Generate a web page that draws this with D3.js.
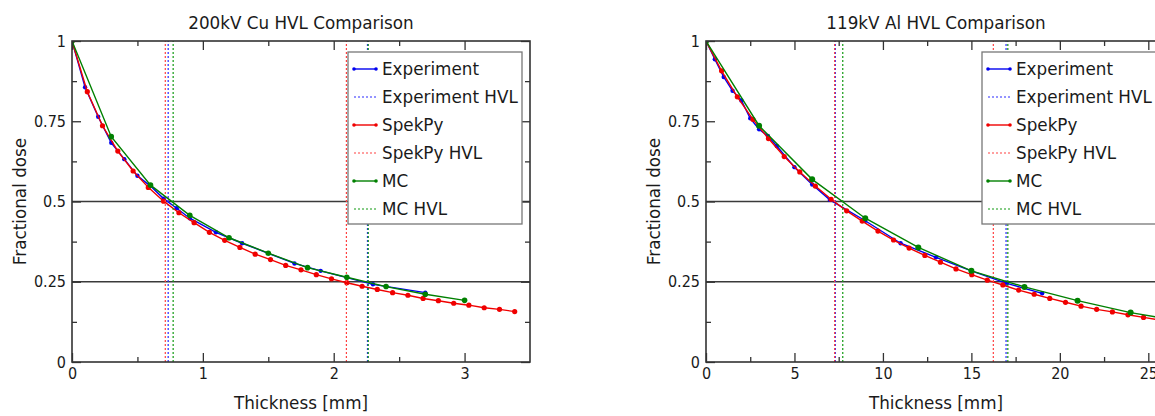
<!DOCTYPE html>
<html>
<head>
<meta charset="utf-8">
<script src="https://cdn.jsdelivr.net/npm/d3@7/dist/d3.min.js"></script>
<style>
  body { margin: 0; background: #fff; overflow: hidden; }
  text { font-family: "DejaVu Sans", sans-serif; fill: #1a1a1a; }
  .tick text { font-family: "DejaVu Sans Condensed", "DejaVu Sans", sans-serif; }
</style>
</head>
<body>
<div id="container"></div>
<script>
/* DATA */
// 200kV Cu
const cuExpThick = [0, 0.1, 0.2, 0.3, 0.4, 0.5, 0.6, 0.7, 0.8, 0.9, 1.1, 1.3, 1.7, 1.9, 2.3, 2.7];
const cuExpDose  = [1, 0.856, 0.764, 0.683, 0.632, 0.580, 0.548, 0.509, 0.479, 0.448, 0.404, 0.370, 0.307, 0.284, 0.242, 0.216];
const cuSpekThick = [0, 0.117, 0.233, 0.35, 0.467, 0.583, 0.7, 0.817, 0.933, 1.05, 1.167, 1.283, 1.4, 1.517, 1.633,
  1.75, 1.867, 1.983, 2.1, 2.217, 2.333, 2.45, 2.567, 2.683, 2.8, 2.917, 3.033, 3.15, 3.267, 3.383];
const cuSpekDose  = [1, 0.842, 0.736, 0.657, 0.595, 0.544, 0.501, 0.465, 0.434, 0.404, 0.379, 0.357, 0.336, 0.319, 0.301,
  0.287, 0.272, 0.259, 0.247, 0.236, 0.226, 0.216, 0.208, 0.198, 0.191, 0.183, 0.177, 0.169, 0.164, 0.157];
const cuMcThick = [0, 0.3, 0.6, 0.9, 1.2, 1.5, 1.8, 2.1, 2.4, 2.7, 3.0];
const cuMcDose  = [1, 0.702, 0.551, 0.457, 0.387, 0.339, 0.294, 0.264, 0.235, 0.211, 0.192];
const cuExpHvl  = [0.735, 2.258];
const cuSpekHvl = [0.713, 2.097];
const cuMcHvl   = [0.773, 2.264];

// 119kV Al
const alExpThick = [0, 0.5, 1, 1.5, 2, 2.5, 3, 3.5, 4, 5, 6, 7, 9, 11, 13, 15, 17, 19];
const alExpDose  = [1, 0.943, 0.888, 0.845, 0.815, 0.759, 0.725, 0.704, 0.673, 0.607, 0.553, 0.505, 0.440, 0.370, 0.326, 0.284, 0.245, 0.214];
const alSpekThick = [0, 0.88, 1.77, 2.65, 3.53, 4.42, 5.3, 6.18, 7.07, 7.95, 8.83, 9.72, 10.6, 11.48, 12.37,
  13.25, 14.13, 15.02, 15.9, 16.78, 17.67, 18.55, 19.43, 20.32, 21.2, 22.08, 22.97, 23.85, 24.73, 25.62];
const alSpekDose  = [1, 0.907, 0.826, 0.756, 0.696, 0.640, 0.592, 0.548, 0.507, 0.471, 0.439, 0.408, 0.380, 0.355, 0.332,
  0.311, 0.290, 0.272, 0.255, 0.240, 0.224, 0.211, 0.198, 0.186, 0.174, 0.164, 0.156, 0.147, 0.139, 0.131];
const alMcThick = [0, 3, 6, 9, 12, 15, 18, 21, 24, 27];
const alMcDose  = [1, 0.736, 0.569, 0.448, 0.357, 0.284, 0.234, 0.191, 0.154, 0.126];
const alExpHvl  = [7.31, 16.96];
const alSpekHvl = [7.27, 16.24];
const alMcHvl   = [7.73, 17.06];

const legendNames = ["Experiment", "Experiment HVL", "SpekPy", "SpekPy HVL", "MC", "MC HVL"];
const doseTicks = [0, 0.25, 0.5, 0.75, 1];
const doseMinor = [0.125, 0.375, 0.625, 0.875];
const refLevels = [0.5, 0.25];
const cuTicks = [0, 1, 2, 3];
const cuMinor = [0.5, 1.5, 2.5, 3.5];
const alTicks = [0, 5, 10, 15, 20, 25];
const alMinor = [2.5, 7.5, 12.5, 17.5, 22.5];

/* LAYOUT */
const width = 1155, height = 416;
const plotTop = 41, plotBottom = 362;
const majorLen = 9, minorLen = 5;
const textSize = 16.8, tickSize = 16;
const colors = { exp: "#0000f0", spek: "#f00000", mc: "#008000" };
const hvlColors = { exp: "#2a2aff", spek: "#ff4040", mc: "#119911" };

const zip = (xs, ys) => xs.map((x, i) => ({ t: x, d: ys[i] }));

const panels = [
  {
    id: "cu", title: "200kV Cu HVL Comparison", x0: 72, x1: 530, xMax: 3.5,
    ticks: cuTicks, minor: cuMinor,
    series: [
      { key: "exp", data: zip(cuExpThick, cuExpDose), hvl: cuExpHvl, r: 2.2 },
      { key: "spek", data: zip(cuSpekThick, cuSpekDose), hvl: cuSpekHvl, r: 2.6 },
      { key: "mc", data: zip(cuMcThick, cuMcDose), hvl: cuMcHvl, r: 2.8 }
    ]
  },
  {
    id: "al", title: "119kV Al HVL Comparison", x0: 706, x1: 1166, xMax: 26,
    ticks: alTicks, minor: alMinor,
    series: [
      { key: "exp", data: zip(alExpThick, alExpDose), hvl: alExpHvl, r: 2.2 },
      { key: "spek", data: zip(alSpekThick, alSpekDose), hvl: alSpekHvl, r: 2.6 },
      { key: "mc", data: zip(alMcThick, alMcDose), hvl: alMcHvl, r: 3 }
    ]
  }
];

const svg = d3.select("#container").append("svg")
  .attr("width", width)
  .attr("height", height);

panels.forEach(drawPanel);

function drawPanel(p) {
  const x = d3.scaleLinear().domain([0, p.xMax]).range([p.x0, p.x1]);
  const y = d3.scaleLinear().domain([0, 1]).range([plotBottom, plotTop]);
  const g = svg.append("g");

  g.append("clipPath").attr("id", "clip-" + p.id)
    .append("rect")
    .attr("x", p.x0).attr("y", plotTop)
    .attr("width", p.x1 - p.x0).attr("height", plotBottom - plotTop);

  const plot = g.append("g").attr("clip-path", `url(#clip-${p.id})`);

  // reference levels
  plot.selectAll(".ref")
    .data(refLevels)
    .join("line")
    .attr("x1", p.x0).attr("x2", p.x1)
    .attr("y1", d => y(d)).attr("y2", d => y(d))
    .attr("stroke", "#3a3a3a")
    .attr("stroke-width", 1.3);

  const line = d3.line().x(d => x(d.t)).y(d => y(d.d));

  p.series.forEach(s => {
    plot.append("path")
      .datum(s.data)
      .attr("fill", "none")
      .attr("stroke", colors[s.key])
      .attr("stroke-width", 1.4)
      .attr("d", line);

    plot.selectAll(".dot-" + s.key)
      .data(s.data)
      .join("circle")
      .attr("cx", d => x(d.t))
      .attr("cy", d => y(d.d))
      .attr("r", s.r)
      .attr("fill", colors[s.key]);

    plot.selectAll(".hvl-" + s.key)
      .data(s.hvl)
      .join("line")
      .attr("x1", d => x(d)).attr("x2", d => x(d))
      .attr("y1", y(0)).attr("y2", y(1))
      .attr("stroke", hvlColors[s.key])
      .attr("stroke-width", 1.2)
      .attr("stroke-dasharray", "2,2");
  });

  // axes: ticks inward on all four sides
  const noDomain = sel => sel.select(".domain").remove();
  const tickStyle = sel => sel.selectAll("line").attr("stroke", "#333").attr("stroke-width", 1.3);

  g.append("g").attr("transform", `translate(0,${plotBottom})`)
    .call(d3.axisBottom(x).tickValues(p.ticks).tickSize(-majorLen).tickPadding(6).tickFormat(d3.format("")))
    .call(noDomain).call(tickStyle);
  g.append("g").attr("transform", `translate(0,${plotBottom})`)
    .call(d3.axisBottom(x).tickValues(p.minor.filter(v => v < p.xMax)).tickSize(-minorLen).tickFormat(""))
    .call(noDomain).call(tickStyle);
  g.append("g").attr("transform", `translate(0,${plotTop})`)
    .call(d3.axisTop(x).tickValues(p.ticks).tickSize(-majorLen).tickFormat(""))
    .call(noDomain).call(tickStyle);
  g.append("g").attr("transform", `translate(0,${plotTop})`)
    .call(d3.axisTop(x).tickValues(p.minor.filter(v => v < p.xMax)).tickSize(-minorLen).tickFormat(""))
    .call(noDomain).call(tickStyle);

  g.append("g").attr("transform", `translate(${p.x0},0)`)
    .call(d3.axisLeft(y).tickValues(doseTicks).tickSize(-majorLen).tickPadding(6).tickFormat(d3.format("")))
    .call(noDomain).call(tickStyle);
  g.append("g").attr("transform", `translate(${p.x0},0)`)
    .call(d3.axisLeft(y).tickValues(doseMinor).tickSize(-minorLen).tickFormat(""))
    .call(noDomain).call(tickStyle);
  g.append("g").attr("transform", `translate(${p.x1},0)`)
    .call(d3.axisRight(y).tickValues(doseTicks).tickSize(-majorLen).tickFormat(""))
    .call(noDomain).call(tickStyle);
  g.append("g").attr("transform", `translate(${p.x1},0)`)
    .call(d3.axisRight(y).tickValues(doseMinor).tickSize(-minorLen).tickFormat(""))
    .call(noDomain).call(tickStyle);

  g.selectAll(".tick text")
    .attr("font-size", tickSize)
    .attr("font-family", null)
    .attr("fill", "#1a1a1a");

  // frame
  g.append("rect")
    .attr("x", p.x0).attr("y", plotTop)
    .attr("width", p.x1 - p.x0).attr("height", plotBottom - plotTop)
    .attr("fill", "none")
    .attr("stroke", "#333")
    .attr("stroke-width", 1.6);

  const cx = (p.x0 + p.x1) / 2;
  g.append("text")
    .attr("x", cx).attr("y", 29)
    .attr("text-anchor", "middle")
    .attr("font-size", textSize)
    .text(p.title);

  g.append("text")
    .attr("x", cx).attr("y", 409)
    .attr("text-anchor", "middle")
    .attr("font-size", textSize)
    .text("Thickness [mm]");

  g.append("text")
    .attr("transform", `translate(${p.x0 - 46},${(plotTop + plotBottom) / 2}) rotate(-90)`)
    .attr("text-anchor", "middle")
    .attr("font-size", textSize)
    .text("Fractional dose");

  // legend
  const lx = p.x0 + 276, ly = 52;
  const legend = g.append("g").attr("transform", `translate(${lx},${ly})`);
  legend.append("rect")
    .attr("width", 174).attr("height", 172)
    .attr("fill", "#fff")
    .attr("stroke", "#777")
    .attr("stroke-width", 1.3);

  const keys = ["exp", "exp", "spek", "spek", "mc", "mc"];
  const rows = legend.selectAll(".row")
    .data(legendNames)
    .join("g")
    .attr("transform", (d, i) => `translate(0,${17 + i * 28})`);

  rows.append("line")
    .attr("x1", 6).attr("x2", 28)
    .attr("stroke", (d, i) => i % 2 ? hvlColors[keys[i]] : colors[keys[i]])
    .attr("stroke-width", (d, i) => i % 2 ? 1.2 : 1.4)
    .attr("stroke-dasharray", (d, i) => i % 2 ? "2,2" : null);

  rows.filter((d, i) => i % 2 === 0)
    .selectAll("circle")
    .data([6, 28])
    .join("circle")
    .attr("cx", d => d)
    .attr("r", 1.8)
    .attr("fill", function () { return d3.select(this.parentNode).select("line").attr("stroke"); });

  rows.append("text")
    .attr("x", 34)
    .attr("dy", "0.35em")
    .attr("font-size", textSize)
    .text(d => d);
}
</script>
</body>
</html>
